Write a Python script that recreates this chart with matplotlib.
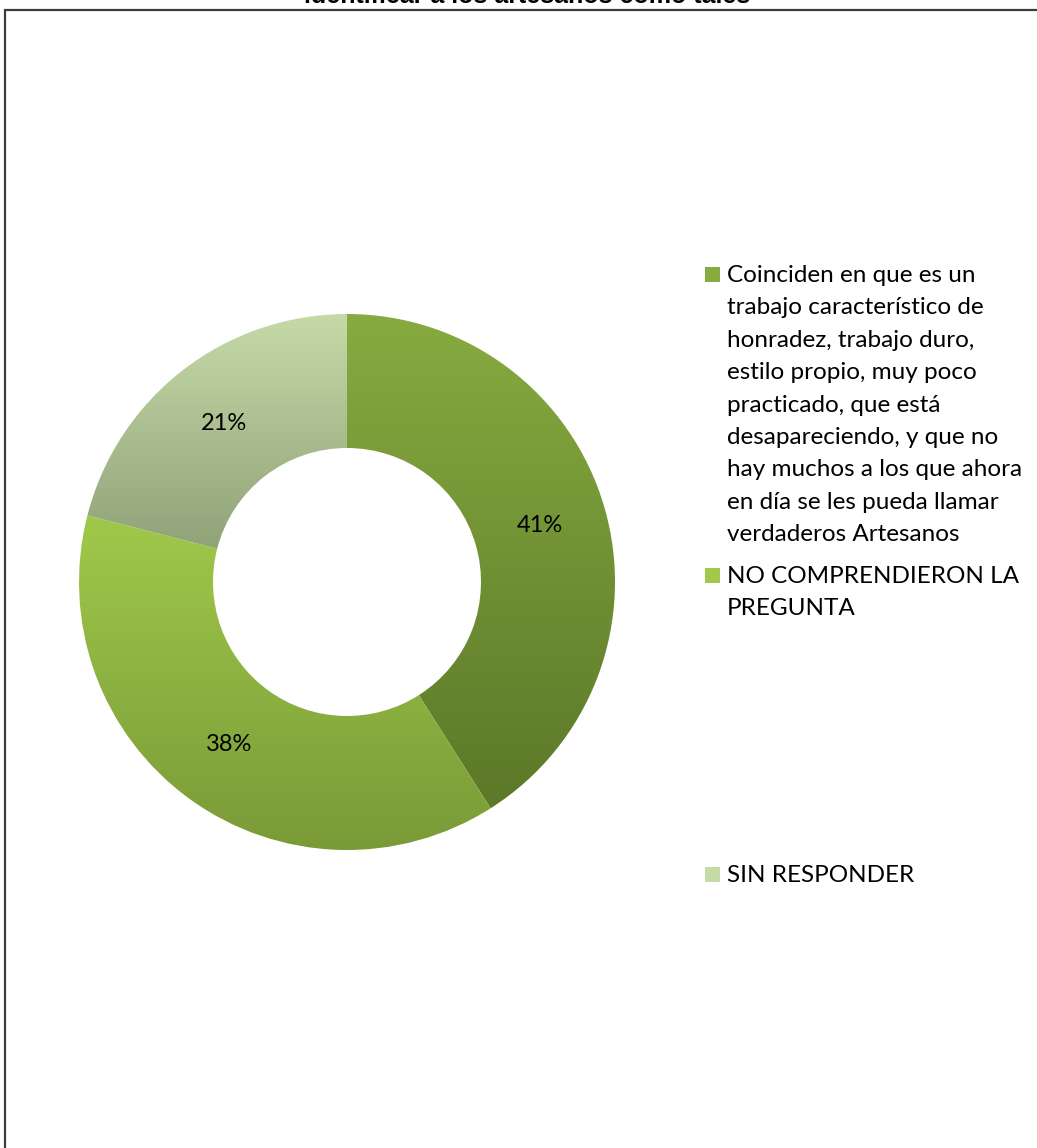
import numpy as np
import matplotlib
matplotlib.use("Agg")
import matplotlib.pyplot as plt
from matplotlib.patches import Rectangle
from matplotlib.colors import LinearSegmentedColormap

W, H = 1037, 1148

title = "identificar a los artesanos como tales"
labels = [
    "Coinciden en que es un\ntrabajo característico de\nhonradez, trabajo duro,\nestilo propio, muy poco\npracticado, que está\ndesapareciendo, y que no\nhay muchos a los que ahora\nen día se les pueda llamar\nverdaderos Artesanos",
    "NO COMPRENDIERON LA\nPREGUNTA",
    "SIN RESPONDER",
]
values = [41, 38, 21]
# (top colour, bottom colour) of each slice's vertical gradient
grad_colors = [("#87AB40", "#5C7829"), ("#A0C94B", "#7A9A37"), ("#C6DAA8", "#90A278")]
# legend entries: y of first text line centre (px from top)
legend_y = [274, 575, 874]

plt.rcParams["font.family"] = ["Lato", "DejaVu Sans"]

fig = plt.figure(figsize=(W / 100, H / 100), dpi=100)

# frame around chart area (right/bottom fall outside the image)
fig.patches.append(Rectangle((5 / W, -0.1), 1.2, 1 - 10 / H + 0.1,
                             transform=fig.transFigure, fill=False,
                             edgecolor="#3c3c3c", linewidth=1.6))

fig.text(527 / W, 1 - 3 / H, title, ha="center", va="baseline",
         fontsize=18, fontweight="bold", family="Liberation Sans")

# donut axes: center (347, 582) px, radius 268 px, limits +-1.1
cx, cy, r = 347, 582, 268
lim = 1.1
ax = fig.add_axes([(cx - r * lim) / W, (H - cy - r * lim) / H,
                   2 * r * lim / W, 2 * r * lim / H])
wedges, texts, autotexts = ax.pie(values, startangle=90, counterclock=False,
                                  radius=1.0, wedgeprops=dict(width=0.5, linewidth=0),
                                  autopct="%1.0f%%", pctdistance=0.75,
                                  textprops=dict(fontsize=17, color="black"))
ax.set_aspect("equal")
ax.axis("off")

for w, (c_top, c_bot) in zip(wedges, grad_colors):
    ext = w.get_path().get_extents(w.get_transform() - ax.transData)
    cmap = LinearSegmentedColormap.from_list("g", [c_bot, c_top])
    grad = np.linspace(0, 1, 256).reshape(-1, 1)
    im = ax.imshow(grad, cmap=cmap, aspect="auto", origin="lower",
                   extent=[ext.x0, ext.x1, ext.y0, ext.y1], zorder=1)
    im.set_clip_path(w)
    w.set_facecolor("none")
for t in autotexts:
    t.set_zorder(5)
ax.set_xlim(-lim, lim)
ax.set_ylim(-lim, lim)

# legend drawn on the figure
for lab, (c_top, c_bot), y0 in zip(labels, grad_colors, legend_y):
    fig.patches.append(Rectangle((705 / W, 1 - (y0 + 8) / H), 15 / W, 15 / H,
                                 transform=fig.transFigure,
                                 facecolor=c_top, edgecolor="none"))
    fig.text(727 / W, 1 - (y0 - 9) / H, lab, ha="left", va="top",
             fontsize=17.5, linespacing=1.67)

fig.savefig("out.png", dpi=100)
